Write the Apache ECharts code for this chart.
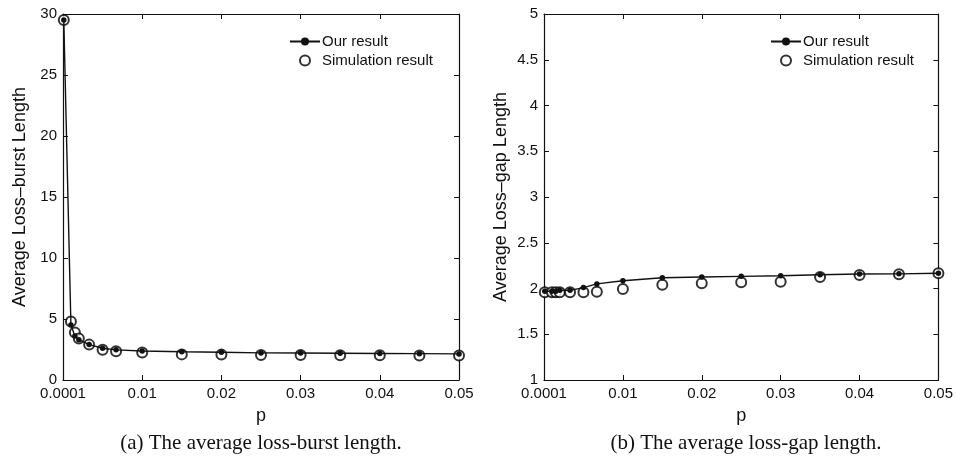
<!DOCTYPE html>
<html>
<head>
<meta charset="utf-8">
<script src="https://cdn.jsdelivr.net/npm/echarts@6/dist/echarts.min.js"></script>
<style>html,body{margin:0;padding:0;background:#fff}#c{width:956px;height:467px}</style>
</head>
<body>
<div id="c"></div>
<script>
const pValues = [0.0001, 0.001, 0.0015, 0.002, 0.0033, 0.005, 0.0067, 0.01, 0.015, 0.02, 0.025, 0.03, 0.035, 0.04, 0.045, 0.05];
const burstOurs = [29.5, 4.5, 3.6, 3.3, 2.9, 2.6, 2.47, 2.38, 2.32, 2.27, 2.22, 2.21, 2.19, 2.17, 2.16, 2.14];
const burstSim  = [29.5, 4.8, 3.9, 3.4, 2.9, 2.47, 2.35, 2.25, 2.1, 2.08, 2.05, 2.05, 2.02, 2.02, 2.0, 2.0];
const gapOurs = [1.97, 1.97, 1.97, 1.98, 1.98, 2.01, 2.05, 2.085, 2.118, 2.126, 2.133, 2.14, 2.151, 2.158, 2.16, 2.166];
const gapSim  = [1.96, 1.96, 1.96, 1.96, 1.96, 1.96, 1.965, 1.995, 2.04, 2.057, 2.068, 2.075, 2.126, 2.148, 2.155, 2.166];
const xTicksFirstLabel = '0.0001';
const seriesNames = ['Our result', 'Simulation result'];
const yNames = ['Average Loss\u2013burst Length', 'Average Loss\u2013gap Length'];
const captions = ['(a) The average loss-burst length.', '(b) The average loss-gap length.'];

const pair = (xs, ys) => xs.map((x, i) => [x, ys[i]]);
const FONT = 'Liberation Sans, Arial, sans-serif';
const INK = '#111';

function xAx(grid, pos) {
  return {
    type: 'value', gridIndex: grid, position: pos, min: 0, max: 0.05, interval: 0.01,
    name: pos === 'bottom' ? 'p' : '', nameLocation: 'middle', nameGap: 27,
    nameTextStyle: { fontFamily: FONT, fontSize: 18, color: INK },
    axisLine: { show: true, onZero: false, lineStyle: { color: INK, width: 1.2 } },
    axisTick: { show: true, inside: true, length: 5, lineStyle: { color: INK } },
    axisLabel: { show: pos === 'bottom', fontFamily: FONT, fontSize: 15, color: INK, margin: 6,
      formatter: v => v === 0 ? xTicksFirstLabel : v.toFixed(2) },
    splitLine: { show: false }
  };
}
function yAx(grid, pos, min, max, interval, name) {
  return {
    type: 'value', gridIndex: grid, position: pos, min: min, max: max, interval: interval,
    name: pos === 'left' ? name : '', nameLocation: 'middle', nameGap: 34,
    nameTextStyle: { fontFamily: FONT, fontSize: 18, color: INK },
    axisLine: { show: true, onZero: false, lineStyle: { color: INK, width: 1.2 } },
    axisTick: { show: true, inside: true, length: 5, lineStyle: { color: INK } },
    axisLabel: { show: pos === 'left', fontFamily: FONT, fontSize: 15, color: INK, margin: 6 },
    splitLine: { show: false }
  };
}
function lineSeries(xi, yi, data) {
  return { name: seriesNames[0], type: 'line', xAxisIndex: xi, yAxisIndex: yi, data: data,
    symbol: 'circle', symbolSize: 5.5, showSymbol: true, z: 4,
    lineStyle: { color: INK, width: 1.4 }, itemStyle: { color: INK }, animation: false };
}
function simSeries(xi, yi, data) {
  return { name: seriesNames[1], type: 'scatter', xAxisIndex: xi, yAxisIndex: yi, data: data,
    symbol: 'emptyCircle', symbolSize: 10, z: 3,
    itemStyle: { color: '#000', borderColor: '#000', borderWidth: 1.6 }, animation: false };
}
function legend(left) {
  return { orient: 'vertical', left: left, top: 29, itemWidth: 30, itemHeight: 10, itemGap: 4,
    data: seriesNames, textStyle: { fontFamily: FONT, fontSize: 15, color: INK, padding: [0, 0, 0, -3] },
    selectedMode: false };
}

const chart = echarts.init(document.getElementById('c'), null, { renderer: 'canvas' });
chart.setOption({
  animation: false,
  backgroundColor: '#fff',
  grid: [
    { left: 63, top: 14, width: 396, height: 366 },
    { left: 544, top: 14, width: 396, height: 366 }
  ],
  xAxis: [xAx(0, 'bottom'), xAx(0, 'top'), xAx(1, 'bottom'), xAx(1, 'top')],
  yAxis: [
    yAx(0, 'left', 0, 30, 5, yNames[0]), yAx(0, 'right', 0, 30, 5, ''),
    yAx(1, 'left', 1, 5, 0.5, yNames[1]), yAx(1, 'right', 1, 5, 0.5, '')
  ],
  legend: [legend(284), legend(765)],
  series: [
    simSeries(0, 0, pair(pValues, burstSim)),
    lineSeries(0, 0, pair(pValues, burstOurs)),
    simSeries(2, 2, pair(pValues, gapSim)),
    lineSeries(2, 2, pair(pValues, gapOurs))
  ],
  graphic: [
    { type: 'text', x: 261, y: 443, style: { text: captions[0], x: 0, y: 0, align: 'center', verticalAlign: 'middle',
      font: '21px "Liberation Serif", "Times New Roman", serif', fill: INK } },
    { type: 'text', x: 746, y: 443, style: { text: captions[1], x: 0, y: 0, align: 'center', verticalAlign: 'middle',
      font: '21px "Liberation Serif", "Times New Roman", serif', fill: INK } }
  ]
});
</script>
</body>
</html>
